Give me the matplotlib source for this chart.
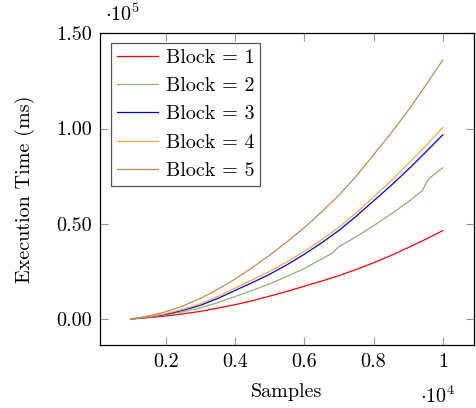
import numpy as np
import matplotlib.pyplot as plt

# data (samples, execution time in ms)
x = [1000, 1500, 2000, 2500, 3000, 3500, 4000, 4500, 5000, 5500,
     6000, 6500, 7000, 7500, 8000, 8500, 9000, 9500, 10000]
x_b2 = [1000, 1500, 2000, 2500, 3000, 3500, 4000, 4500, 5000, 5500,
        6000, 6500, 6800, 7000, 7500, 8000, 8500, 9000, 9400, 9600, 10000]

block1 = [0, 700, 1600, 2700, 4000, 5700, 7500, 9600, 12000, 14500,
          17200, 19900, 22800, 26000, 29500, 33300, 37500, 41800, 46400]
block2 = [0, 900, 2200, 3800, 5800, 8600, 11800, 15000, 18500, 22400,
          26500, 31500, 34500, 38000, 43200, 49000, 55000, 61500, 67300, 73800, 79400]
block3 = [0, 1000, 2500, 4600, 7200, 10800, 15000, 19100, 23500, 28500,
          34000, 40000, 46500, 54000, 62000, 70000, 78500, 87500, 96700]
block4 = [0, 1100, 2800, 5100, 8000, 11800, 16200, 20500, 25000, 30000,
          35500, 41600, 48200, 55800, 64000, 72500, 81500, 90800, 100500]
block5 = [0, 1600, 3800, 6900, 10800, 15600, 21000, 27000, 33500, 40500,
          48000, 56200, 65000, 75000, 86200, 97500, 109500, 122500, 136000]

plt.rcParams['font.family'] = 'serif'
plt.rcParams['font.serif'] = ['cmr10']
plt.rcParams['mathtext.fontset'] = 'cm'
plt.rcParams['axes.formatter.use_mathtext'] = True
plt.rcParams['font.size'] = 14.5

fig = plt.figure(figsize=(4.76, 4.08), dpi=100)
ax = fig.add_axes([100/476, 63/408, 374/476, 312/408])

xs = np.array(x) / 1e4
ax.plot(xs, np.array(block1) / 1e5, color='#ff0000', lw=0.9, label='Block = 1')
ax.plot(np.array(x_b2) / 1e4, np.array(block2) / 1e5, color='#8fb07a', lw=0.9, label='Block = 2')
ax.plot(xs, np.array(block3) / 1e5, color='#0000ff', lw=0.9, label='Block = 3')
ax.plot(xs, np.array(block4) / 1e5, color='#ffaa33', lw=0.9, label='Block = 4')
ax.plot(xs, np.array(block5) / 1e5, color='#c08a55', lw=0.9, label='Block = 5')

ax.set_xlim(0.01, 1.09)
ax.set_ylim(-0.1365, 1.5015)
ax.set_xticks([0.2, 0.4, 0.6, 0.8, 1.0])
ax.set_xticklabels(['0.2', '0.4', '0.6', '0.8', '1'])
ax.set_yticks([0, 0.5, 1.0, 1.5])
ax.set_yticklabels(['0.00', '0.50', '1.00', '1.50'])
ax.tick_params(direction='in', length=6, width=0.8, color='#999999',
               top=True, right=True)
ax.tick_params(axis='x', pad=6)
ax.tick_params(axis='y', pad=6)
for s in ax.spines.values():
    s.set_linewidth(0.9)

ax.set_xlabel('Samples', va='center')
ax.xaxis.set_label_coords(0.5, -(392 - 345) / 312)
ax.set_ylabel('Execution Time (ms)', va='center')
ax.yaxis.set_label_coords(-(100 - 25) / 374, 0.5)
fig.text(438/476, 1 - 396/408, r'$\cdot 10^4$', ha='center', va='center')
fig.text(122/476, 1 - 14/408, r'$\cdot 10^5$', ha='center', va='center')

leg = ax.legend(loc='upper left', bbox_to_anchor=(0.03, 0.968), fancybox=False,
                framealpha=1, edgecolor='#555555', handlelength=2.0,
                handletextpad=0.4, labelspacing=0.5, borderpad=0.3,
                borderaxespad=0, fontsize=14.5)
leg.get_frame().set_linewidth(0.9)

plt.savefig('out.png', dpi=100)
